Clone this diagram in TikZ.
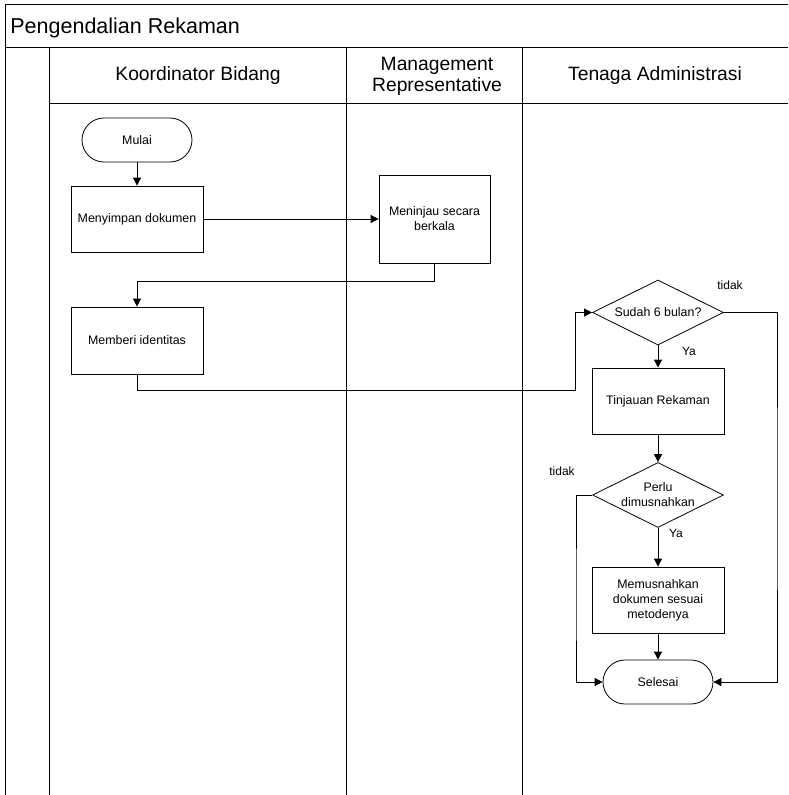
\documentclass[tikz,border=0pt]{standalone}
\usepackage{fontspec}
\setmainfont{Liberation Sans}
\usetikzlibrary{arrows.meta,shapes.geometric}

\tikzset{
	proses/.style={draw, rectangle, minimum width=132pt, minimum height=66pt, inner sep=2pt, align=center, font=\fontsize{12.4}{15}\selectfont},
	terminal/.style={draw, rectangle, rounded corners=22pt, minimum width=110pt, minimum height=44pt, inner sep=2pt, font=\fontsize{12.4}{15}\selectfont},
	keputusan/.style={draw, diamond, aspect=2, minimum width=131pt, minimum height=65pt, inner sep=0pt, align=center, font=\fontsize{12.4}{15}\selectfont},
	panah/.style={-{Triangle[length=8pt,width=8pt]}, line width=0.8pt},
	ket/.style={inner sep=0pt, font=\fontsize{12}{14}\selectfont},
	lajur/.style={inner sep=0pt, align=center, font=\fontsize{19.3}{21}\selectfont}
}

\begin{document}
\begin{tikzpicture}[x=1pt, y=-1pt, line width=0.8pt]
		\useasboundingbox (0,0) rectangle (788,795);

		% bingkai dan lajur
		\draw[line width=1pt] (788,4) -- (5,4) -- (5,795);
		\draw[line width=1pt] (5,47) -- (788,47);
		\draw[line width=1pt] (49,103) -- (788,103);
		\foreach \x in {49,346,522}
		\draw[line width=1pt] (\x,47) -- (\x,795);

		\node[anchor=base west, inner sep=0pt, font=\fontsize{21.5}{24}\selectfont] (judul) at (10,33.5) {Pengendalian Rekaman};
		\node[lajur, anchor=base] (koordinator) at (198,80) {Koordinator Bidang};
		\node[lajur] (mr) at (437,76) {Management\\Representative};
		\node[lajur, anchor=base] (tenaga) at (655,80.5) {Tenaga Administrasi};

		% langkah
		\node[terminal] (mulai) at (137,140) {Mulai};
		\node[proses] (simpan) at (137,219) {Menyimpan dokumen};
		\node[proses, minimum width=111pt, minimum height=88pt] (tinjau) at (434.5,219) {Meninjau secara\\berkala};
		\node[proses, minimum height=67pt] (identitas) at (137,340.5) {Memberi identitas};
		\node[keputusan] (sudah) at (658,312.5) {Sudah 6 bulan?};
		\node[proses] (rekaman) at (658,401) {Tinjauan Rekaman};
		\node[keputusan] (perlu) at (658,495) {Perlu\\dimusnahkan};
		\node[proses] (musnah) at (658,600) {Memusnahkan\\dokumen sesuai\\metodenya};
		\node[terminal] (selesai) at (658,682) {Selesai};

		\coordinate (belok1) at (575,390);
		\coordinate (belok2) at (777,500);
		\coordinate (belok3) at (576,600);

		% alur
		\draw[panah] (mulai) -- (simpan);
		\draw[panah] (simpan) -- (tinjau);
		\draw[panah] (tinjau.south) -- ++(0,18) -| (identitas.north);
		\draw[panah] (identitas.south) |- (belok1) |- (sudah.west);
		\draw[panah] (sudah) -- (rekaman);
		\draw[panah] (sudah.east) -| (belok2) |- (selesai.east);
		\draw[panah] (rekaman) -- (perlu);
		\draw[panah] (perlu) -- (musnah);
		\draw[panah] (perlu.west) -| (belok3) |- (selesai.west);
		\draw[panah] (musnah) -- (selesai);

		\node[ket] (tidak1) at (730,285) {tidak};
		\node[ket] (ya1) at (689,351) {Ya};
		\node[ket] (tidak2) at (562,471) {tidak};
		\node[ket] (ya2) at (676,533) {Ya};
	\end{tikzpicture}
\end{document}
